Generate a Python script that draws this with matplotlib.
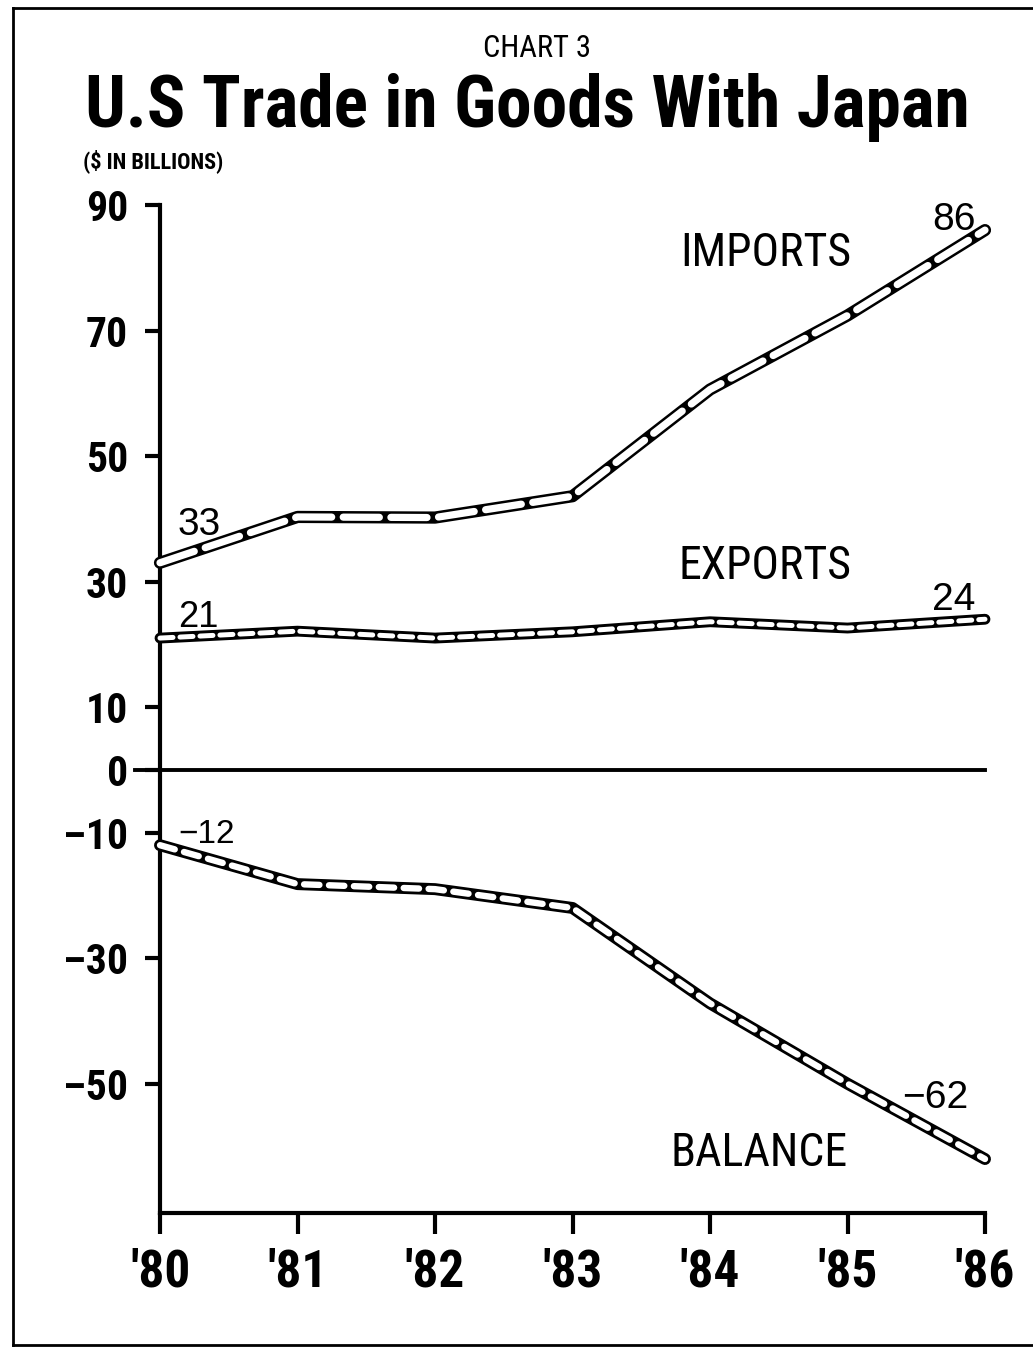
import matplotlib
matplotlib.use("Agg")
import matplotlib.pyplot as plt
from matplotlib.lines import Line2D

# U.S. trade in goods with Japan, $ billions
years = [1980, 1981, 1982, 1983, 1984, 1985, 1986]
year_labels = ["'80", "'81", "'82", "'83", "'84", "'85", "'86"]
imports = [33, 40.3, 40.2, 43.6, 60.6, 72.4, 86]
exports = [21, 22.1, 21, 22, 23.6, 22.6, 24]
balance = [-12, -18.2, -19, -22, -37.2, -50, -62]
y_ticks = [90, 70, 50, 30, 10, 0, -10, -30, -50]

COND = ["Roboto Condensed", "Liberation Sans", "DejaVu Sans"]
REGULAR = ["Liberation Sans", "DejaVu Sans"]

W, H = 1033, 1348
fig = plt.figure(figsize=(W / 100, H / 100), dpi=100)
fig.patch.set_facecolor("white")


def fx(px):
    return px / W


def fy(py):
    return 1 - py / H


ax = fig.add_axes([fx(160), fy(1213), fx(985) - fx(160), fy(205) - fy(1213)])
ax.set_xlim(1980, 1986)
ax.set_ylim(-70.6, 90)
ax.set_facecolor("white")

for s in ["top", "right"]:
    ax.spines[s].set_visible(False)
for s in ["left", "bottom"]:
    ax.spines[s].set_linewidth(3)
    ax.spines[s].set_color("black")

ax.set_yticks(y_ticks)
ax.set_yticklabels([str(v).replace("-", "\u2013") for v in y_ticks],
                   family=COND, fontweight="bold", fontsize=30)
ax.set_xticks(years)
ax.set_xticklabels(year_labels, family=COND, fontweight="bold", fontsize=37)
ax.tick_params(axis="y", direction="out", length=11, width=3, pad=12)
ax.tick_params(axis="x", direction="out", length=15, width=3, pad=10)

# zero line runs past the axis to the left
ax.plot([1980 - 25 / 137.5, 1986], [0, 0], color="black", lw=2.8,
        clip_on=False, zorder=3)


def rope(xs, ys, outer, inner, dashes):
    ax.plot(xs, ys, color="black", lw=outer, solid_capstyle="round",
            solid_joinstyle="round", clip_on=False, zorder=4)
    ax.plot(xs, ys, color="white", lw=inner, dashes=dashes,
            dash_capstyle="round", clip_on=False, zorder=5)


rope(years, imports, 8.8, 5.2, (5, 1.6))
rope(years, exports, 7.8, 3.6, (2.6, 1.4))
rope(years, balance, 8.6, 4.6, (2.4, 1.5))

# series names
ax.text(1985.03, 82.3, "IMPORTS", family=COND, fontsize=33,
        ha="right", va="center")
ax.text(1985.03, 32.5, "EXPORTS", family=COND, fontsize=33,
        ha="right", va="center")
ax.text(1985.0, -61.0, "BALANCE", family=COND, fontsize=33,
        ha="right", va="center")

# end-point values
ax.text(1980.13, imports[0] + 4.4, "33", family=REGULAR, fontsize=28,
        ha="left", va="baseline")
ax.text(1980.13, exports[0] + 1.8, "21", family=REGULAR, fontsize=26,
        ha="left", va="baseline")
ax.text(1980.13, balance[0] + 0.4, "\u221212", family=REGULAR, fontsize=24,
        ha="left", va="baseline")
ax.text(1985.93, imports[-1] + 0.0, "86", family=REGULAR, fontsize=28,
        ha="right", va="baseline")
ax.text(1985.93, exports[-1] + 1.5, "24", family=REGULAR, fontsize=28,
        ha="right", va="baseline")
ax.text(1985.88, balance[-1] + 8.1, "\u221262", family=REGULAR, fontsize=28,
        ha="right", va="baseline")

# headings
fig.text(fx(537), fy(57), "CHART 3", family=COND, fontsize=22,
         ha="center", va="baseline")
fig.text(fx(527), fy(127), "U.S Trade in Goods With Japan", family=COND,
         fontweight="bold", fontsize=51.5, ha="center", va="baseline")
fig.text(fx(83), fy(168), "($ IN BILLIONS)", family=COND, fontweight="bold",
         fontsize=16, ha="left", va="baseline")

# outer frame
for xs, ys in [([13, 13], [8, 1345]), ([13, 1033], [8, 8]),
               ([13, 1033], [1345, 1345])]:
    fig.add_artist(Line2D([fx(x) for x in xs], [fy(y) for y in ys],
                          color="black", lw=2))

fig.savefig("out.png", dpi=100, facecolor="white")
